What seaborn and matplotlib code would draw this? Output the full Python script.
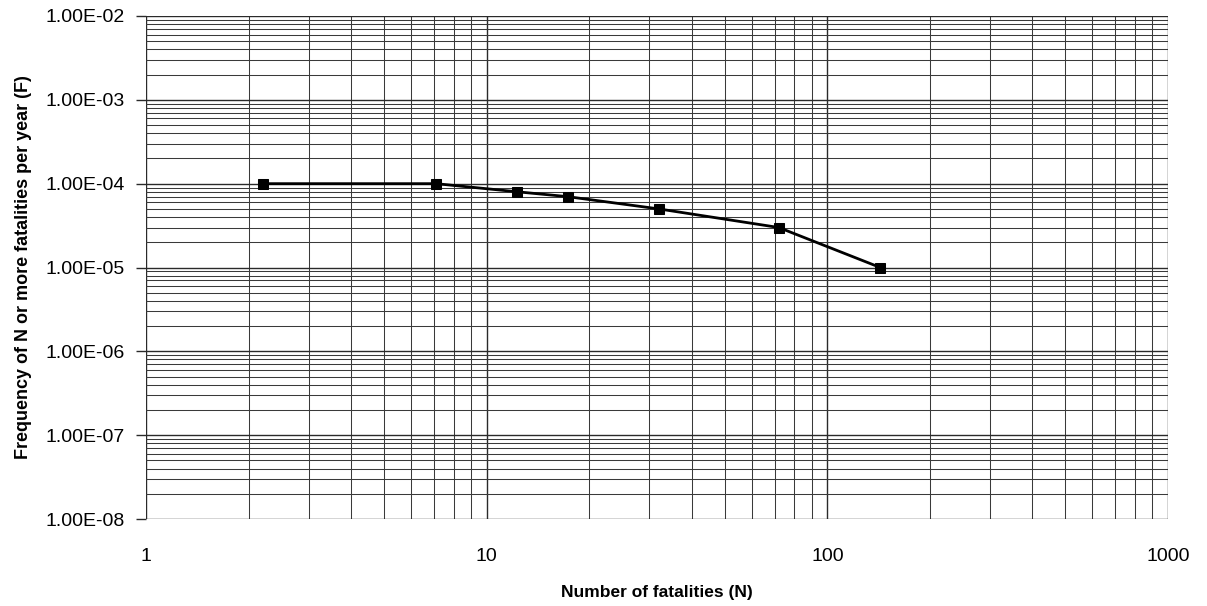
import matplotlib
matplotlib.use("Agg")
import matplotlib.pyplot as plt
import matplotlib.ticker as mticker
import seaborn as sns
import pandas as pd
import numpy as np

fatalities = [2.2, 7.1, 12.3, 17.3, 32, 72, 143]
frequency = [1.0e-4, 1.0e-4, 8.0e-5, 7.0e-5, 5.0e-5, 3.0e-5, 1.0e-5]
y_ticks = [1e-8, 1e-7, 1e-6, 1e-5, 1e-4, 1e-3, 1e-2]
x_ticks = [1, 10, 100, 1000]
x_label = "Number of fatalities (N)"
y_label = "Frequency of N or more fatalities per year (F)"

sns.set_theme(style="white")
plt.rcParams['font.family'] = ['Liberation Sans', 'DejaVu Sans']
plt.rcParams['text.color'] = 'black'
plt.rcParams['axes.labelcolor'] = 'black'
plt.rcParams['xtick.color'] = 'black'
plt.rcParams['ytick.color'] = 'black'

df = pd.DataFrame({"N": fatalities, "F": frequency})

fig = plt.figure(figsize=(12.07, 6.06), dpi=100)
ax = fig.add_axes([146/1207, 1-519/606, (1168-146)/1207, (519-16)/606])

ax.set_xscale("log")
ax.set_yscale("log")
ax.set_xlim(1, 1000)
ax.set_ylim(1e-8, 1e-2)

ax.grid(True, which="major", color="#2a2a2a", linewidth=1.0)
ax.grid(True, which="minor", color="#3a3a3a", linewidth=0.75)
ax.xaxis.set_minor_locator(mticker.LogLocator(base=10, subs=np.arange(2, 10)))
ax.yaxis.set_minor_locator(mticker.LogLocator(base=10, subs=np.arange(2, 10)))
ax.set_axisbelow(True)

sns.lineplot(data=df, x="N", y="F", ax=ax, color="black", linewidth=2.0,
             marker="s", markersize=7.5, markeredgecolor="black",
             markerfacecolor="black", zorder=5)

ax.set_yticks(y_ticks)
ax.set_yticklabels([f"{v:.2E}" for v in y_ticks], fontsize=14, color="black")
ax.set_xticks(x_ticks)
ax.set_xticklabels([str(v) for v in x_ticks], fontsize=14, color="black")
ax.tick_params(axis="y", which="major", length=7, width=1.0, color="#2a2a2a",
               direction="out", left=True, pad=8)
ax.tick_params(axis="y", which="minor", length=0, left=False)
ax.tick_params(axis="x", which="both", length=0, pad=21)

for s in ax.spines.values():
    s.set_visible(False)

ax.set_xlabel(x_label, fontsize=12.5, fontweight="bold", labelpad=14, color="black")
ax.set_ylabel(y_label, fontsize=13, fontweight="bold", labelpad=10, color="black")

fig.savefig("out.png", dpi=100)
